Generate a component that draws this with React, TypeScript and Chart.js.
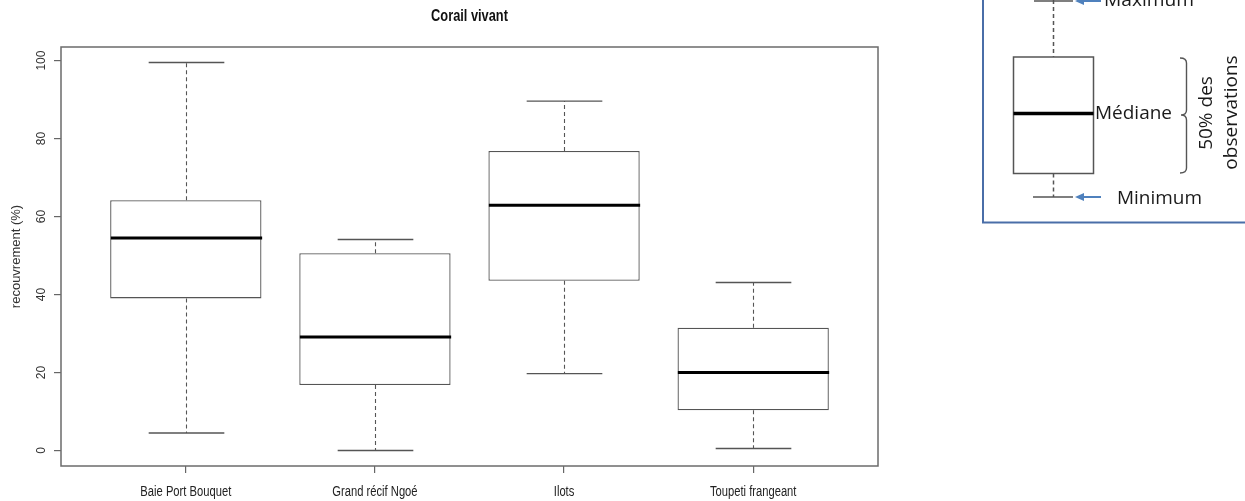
import { useEffect, useRef } from "react";
import { Chart, registerables } from "chart.js";

Chart.register(...registerables);

// ---- data ----
const categories = ["Baie Port Bouquet", "Grand récif Ngoé", "Ilots", "Toupeti frangeant"];
const minimum = [4.5, 0.0, 19.7, 0.5];
const q1 = [39.0, 16.8, 43.5, 10.3];
const median = [54.5, 29.1, 62.9, 20.0];
const q3 = [64.2, 50.6, 76.8, 31.5];
const maximum = [99.5, 54.1, 89.6, 43.1];
const yTicks = [0, 20, 40, 60, 80, 100];

const chartTitle = "Corail vivant";
const yTitle = "recouvrement (%)";

const SANS = "'Liberation Sans', Arial, sans-serif";
const INSET_FONT = "'Open Sans', 'Noto Sans', sans-serif";
const SQUEEZE = 0.8; // the reference picture is horizontally compressed

export default function App() {
  const canvasRef = useRef<HTMLCanvasElement>(null);

  useEffect(() => {
    const canvas = canvasRef.current;
    if (!canvas) return;
    const n = categories.length;
    const lo = Math.min(...minimum);
    const hi = Math.max(...maximum);
    const span = hi - lo;
    const yMin = lo - 0.04 * span;
    const yMax = hi + 0.04 * span;
    const xMin = 0.5 - 0.04 * n;
    const xMax = n + 0.5 + 0.04 * n;

    const squeezedText = (ctx: CanvasRenderingContext2D, text: string, x: number, y: number) => {
      ctx.save();
      ctx.translate(x, y);
      ctx.scale(SQUEEZE, 1);
      ctx.fillText(text, 0, 0);
      ctx.restore();
    };

    const boxPlugin = {
      id: "rbox",
      afterDatasetsDraw(chart: any) {
        const ctx = chart.ctx as CanvasRenderingContext2D;
        const xs = chart.scales.x;
        const ys = chart.scales.y;
        const meta = chart.getDatasetMeta(0);
        ctx.save();
        for (let i = 0; i < n; i++) {
          const el = meta.data[i] as any;
          const cx = Math.round(xs.getPixelForValue(i + 1)) + 0.5;
          const half = el.width / 2;
          const capHalf = half / 2;
          const yMaxP = ys.getPixelForValue(maximum[i]);
          const yMinP = ys.getPixelForValue(minimum[i]);
          const yQ1 = ys.getPixelForValue(q1[i]);
          const yQ3 = ys.getPixelForValue(q3[i]);
          const yMed = ys.getPixelForValue(median[i]);
          // whiskers (dashed)
          ctx.strokeStyle = "#555";
          ctx.lineWidth = 1.1;
          ctx.setLineDash([4, 3]);
          ctx.beginPath();
          ctx.moveTo(cx, yQ3);
          ctx.lineTo(cx, yMaxP);
          ctx.moveTo(cx, yQ1);
          ctx.lineTo(cx, yMinP);
          ctx.stroke();
          // caps
          ctx.setLineDash([]);
          ctx.lineWidth = 1.4;
          ctx.beginPath();
          ctx.moveTo(cx - capHalf, yMaxP);
          ctx.lineTo(cx + capHalf, yMaxP);
          ctx.moveTo(cx - capHalf, yMinP);
          ctx.lineTo(cx + capHalf, yMinP);
          ctx.stroke();
          // median
          ctx.strokeStyle = "#000";
          ctx.lineWidth = 3;
          ctx.beginPath();
          ctx.moveTo(cx - half, yMed);
          ctx.lineTo(cx + half, yMed);
          ctx.stroke();
        }
        ctx.restore();
      },
      afterDraw(chart: any) {
        const ctx = chart.ctx as CanvasRenderingContext2D;
        const a = chart.chartArea;
        const xs = chart.scales.x;
        const ys = chart.scales.y;
        ctx.save();
        // frame
        ctx.strokeStyle = "#6b6b6b";
        ctx.lineWidth = 1.5;
        ctx.strokeRect(a.left, a.top, a.right - a.left, a.bottom - a.top);
        // y tick labels, rotated
        ctx.fillStyle = "#333";
        ctx.font = `12px ${SANS}`;
        ctx.textAlign = "center";
        ctx.textBaseline = "middle";
        for (const t of ys.ticks) {
          const y = ys.getPixelForValue(t.value);
          ctx.save();
          ctx.translate(42, y);
          ctx.rotate(-Math.PI / 2);
          ctx.fillText(String(t.value), 0, 0);
          ctx.restore();
        }
        // x tick labels (category names)
        ctx.fillStyle = "#222";
        ctx.font = `14px ${SANS}`;
        ctx.textAlign = "center";
        ctx.textBaseline = "alphabetic";
        for (const t of xs.ticks) {
          const label = categories[Math.round(t.value) - 1] ?? "";
          squeezedText(ctx, label, xs.getPixelForValue(t.value), a.bottom + 30);
        }
        // chart title
        ctx.fillStyle = "#111";
        ctx.font = `bold 16px ${SANS}`;
        squeezedText(ctx, chartTitle, (a.left + a.right) / 2, 21);
        ctx.restore();
      },
    };

    const chart = new Chart(canvas, {
      type: "bar",
      data: {
        datasets: [
          {
            data: categories.map((_, i) => ({ x: i + 1, y: [q1[i], q3[i]] })) as any,
            backgroundColor: "#ffffff",
            borderColor: "#555",
            borderWidth: 1.3,
            borderSkipped: false,
            barPercentage: 0.8,
            categoryPercentage: 1,
          },
        ],
      },
      options: {
        animation: false,
        responsive: false,
        devicePixelRatio: 1,
        events: [],
        layout: { padding: { top: 47, right: 367, bottom: 0, left: 0 } },
        plugins: { legend: { display: false }, tooltip: { enabled: false }, title: { display: false } },
        scales: {
          x: {
            type: "linear",
            min: xMin,
            max: xMax,
            offset: false,
            afterBuildTicks: (s: any) => {
              s.ticks = categories.map((_, i) => ({ value: i + 1 }));
            },
            afterFit: (s: any) => {
              s.height = 35;
            },
            ticks: { display: false },
            grid: {
              display: true,
              offset: false,
              drawOnChartArea: false,
              drawTicks: true,
              tickLength: 7,
              color: "#666",
              lineWidth: 1.2,
            },
            border: { display: false },
          },
          y: {
            type: "linear",
            min: yMin,
            max: yMax,
            afterBuildTicks: (s: any) => {
              s.ticks = yTicks.map((v) => ({ value: v }));
            },
            afterFit: (s: any) => {
              s.width = 61;
            },
            ticks: { display: false },
            title: {
              display: true,
              text: yTitle,
              color: "#333",
              font: { family: SANS, size: 13 },
              padding: { top: 9, bottom: 0 },
            },
            grid: { display: true, drawOnChartArea: false, drawTicks: true, tickLength: 7, color: "#666", lineWidth: 1.2 },
            border: { display: false },
          },
        },
      },
      plugins: [boxPlugin],
    });
    return () => chart.destroy();
  }, []);

  const grey = "#555";
  const blue = "#4f81bd";
  return (
    <div style={{ position: "absolute", left: 0, top: 0, width: 1245, height: 501, background: "#fff", overflow: "hidden" }}>
      <canvas ref={canvasRef} width={1245} height={501} style={{ position: "absolute", left: 0, top: 0, display: "block" }} />
      <svg width={1245} height={501} style={{ position: "absolute", left: 0, top: 0, pointerEvents: "none" }}>
        {/* inset frame */}
        <rect x={983} y={-10} width={300} height={232.5} fill="#fff" stroke="#4a6ea8" strokeWidth={2} />
        {/* upper whisker & cap */}
        <line x1={1053.5} y1={0} x2={1053.5} y2={57} stroke={grey} strokeWidth={1.5} strokeDasharray="4 3" />
        <line x1={1034} y1={1} x2={1073} y2={1} stroke={grey} strokeWidth={1.5} />
        {/* box */}
        <rect x={1013.5} y={57} width={80} height={116.5} fill="#fff" stroke={grey} strokeWidth={1.5} />
        <line x1={1013.5} y1={113.5} x2={1093.5} y2={113.5} stroke="#000" strokeWidth={3.5} />
        {/* lower whisker & cap */}
        <line x1={1053.5} y1={173.5} x2={1053.5} y2={197} stroke={grey} strokeWidth={1.5} strokeDasharray="4 3" />
        <line x1={1033} y1={197} x2={1073} y2={197} stroke={grey} strokeWidth={1.5} />
        {/* arrows */}
        <line x1={1101} y1={1} x2={1080} y2={1} stroke={blue} strokeWidth={2} />
        <polygon points="1075,1 1084,-3 1084,5" fill={blue} />
        <line x1={1101} y1={197} x2={1080} y2={197} stroke={blue} strokeWidth={2} />
        <polygon points="1075,197 1084,193 1084,201" fill={blue} />
        {/* brace */}
        <path
          d="M1180,58 Q1186.5,58 1186.5,63 L1186.5,110 Q1186.5,115 1181,115 Q1186.5,115 1186.5,120 L1186.5,168 Q1186.5,173 1180,173"
          fill="none"
          stroke={grey}
          strokeWidth={1.4}
        />
        {/* texts */}
        <g fill="#1a1a1a" fontFamily={INSET_FONT} fontSize={19}>
          <text x={1104} y={6} textLength={90} lengthAdjust="spacingAndGlyphs">Maximum</text>
          <text x={1095} y={118.5} textLength={77} lengthAdjust="spacingAndGlyphs">Médiane</text>
          <text x={1117} y={204} textLength={85} lengthAdjust="spacingAndGlyphs">Minimum</text>
          <text transform="translate(1212,113) rotate(-90)" textAnchor="middle">50% des</text>
          <text transform="translate(1237,112.5) rotate(-90)" textAnchor="middle">observations</text>
        </g>
      </svg>
    </div>
  );
}
